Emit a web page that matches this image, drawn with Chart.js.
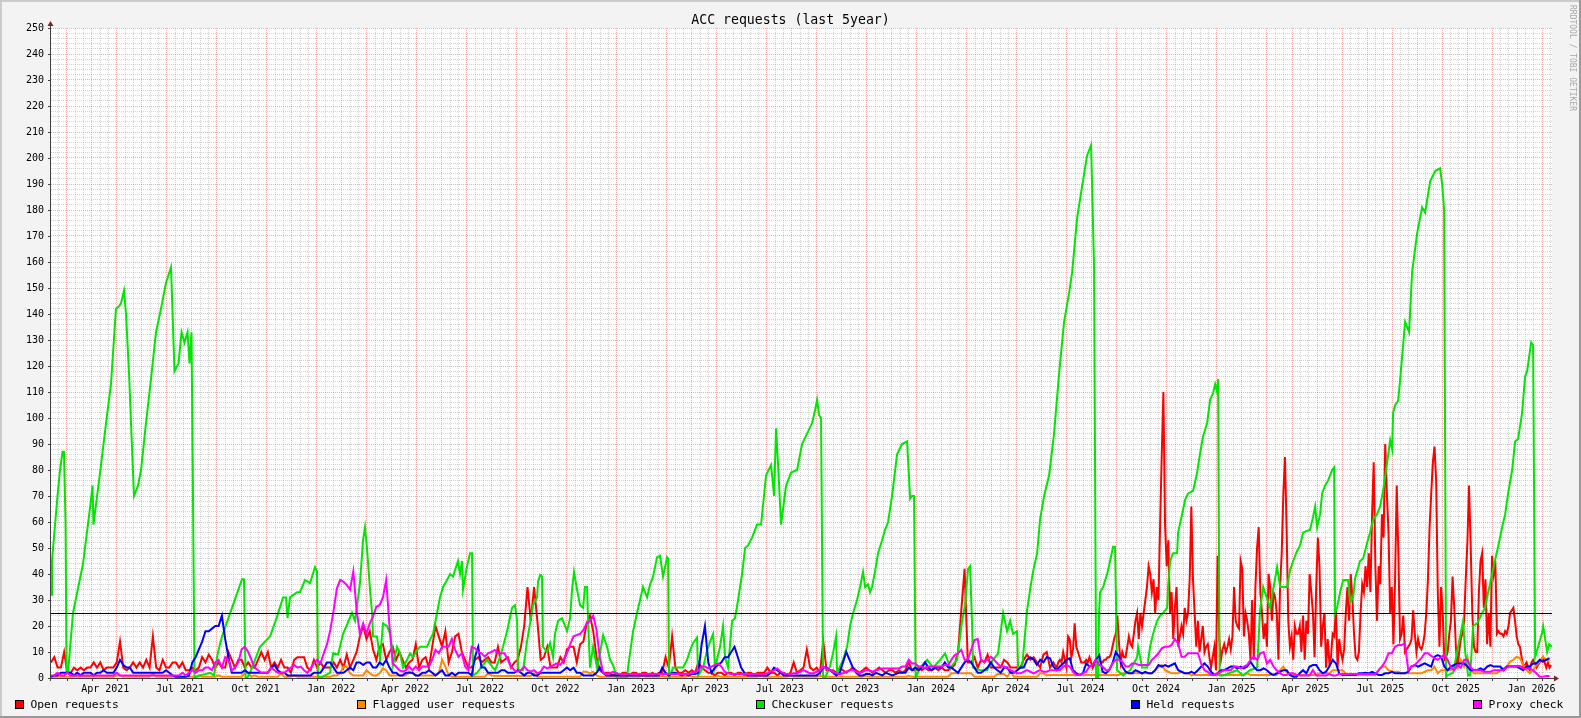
<!DOCTYPE html>
<html>
<head>
<meta charset="utf-8">
<title>ACC requests (last 5year)</title>
<script src="https://cdn.jsdelivr.net/npm/chart.js@4.4.1/dist/chart.umd.min.js"></script>
<style>
  html, body { margin: 0; padding: 0; background: #f3f3f3; }
  #wrap { width: 1581px; height: 718px; }
</style>
</head>
<body>
<div id="wrap"><canvas id="accChart" width="1581" height="718"></canvas></div>
<script>
const chartTitle = "ACC requests (last 5year)";
const startDay = Date.UTC(2021, 0, 25);
const totalDays = 1827;
const dayMs = 86400000;

const tickMonths = ["2021-04", "2021-07", "2021-10", "2022-01", "2022-04", "2022-07", "2022-10",
  "2023-01", "2023-04", "2023-07", "2023-10", "2024-01", "2024-04", "2024-07", "2024-10",
  "2025-01", "2025-04", "2025-07", "2025-10", "2026-01"];
const monthNames = ["Jan", "Feb", "Mar", "Apr", "May", "Jun", "Jul", "Aug", "Sep", "Oct", "Nov", "Dec"];
const yLabels = [0, 10, 20, 30, 40, 50, 60, 70, 80, 90, 100, 110, 120, 130, 140, 150, 160, 170, 180,
  190, 200, 210, 220, 230, 240, 250];
const threshold = 25;

// Open requests: one value every 4 days until day 1212, then every 2 days
const openEarly = [
  6,8,4,4,10,2,2,4,3,4, 3,4,4,6,4,6,3,4,4,4, 6,14,4,3,4,6,4,6,4,7, 4,16,4,3,7,4,4,6,6,4,
  6,3,3,4,3,4,8,6,9,7, 4,6,4,4,10,7,4,7,7,4, 6,4,4,7,10,7,10,4,6,4, 7,4,4,2,7,8,
  8,8,4,3,7,4,6,4,4,4, 6,4,7,4,9,4,7,10,16,20, 15,18,11,7,12,13,7,10,12,7, 10,7,4,6,7,13,4,7,8,4,
  12,20,16,12,18,6,10,16,17,10, 7,4,4,7,8,6,7,8,6,6, 12,6,7,8,4,6,7,12,20,35, 22,35,22,7,8,12,
  4,4,4,8,6,11,12,12,6,13, 14,21,24,18,8,3,2,2,2,1, 2,1,2,2,1,2,2,1,2,2, 1,2,1,2,2,8,4,16,4,2,
  2,3,2,3,2,6,4,3,2,2, 1,2,2,1,2,2,1,2,2,1, 2,2,1,2,2,2,4,2,2,1, 2,2,1,2,6,2,
  3,4,11,4,3,4,2,14,3,3, 3,2,4,3,2,3,4,3,2,3, 4,3,2,3,4,3,2,3,3,2, 3,2,3,6,3,3,4,3,4,3,
  3,4,3,4,3,3,4,5,10,26, 42,6,6,8,4,7,6,9,4,4, 4,4,7,6,4,4,4,4,7,9, 7,8,6,4,9,10
];
const openLateStart = 1216;
const openLate = [
  4,5,6,5,4,6,7,6,10,7, 4,16,15,8,11,21,12,10,8,6, 6,6,7,6,8,6,4,6,4,6, 7,6,6,7,7,8,8,9,12,15,
  17,24,13,6,10,8,8,12,16,13, 12,17,22,25,15,25,20,25,30,35, 43,40,33,38,25,35,30,59,86,110,
  59,43,53,25,33,15,27,35,12,16, 20,17,27,22,25,38,66,38,25,12, 22,10,15,20,10,12,13,8,4,8,
  12,3,47,15,7,11,13,10,12,15, 11,16,35,22,20,19,45,42,16,25, 22,17,7,30,7,35,50,58,33,25,
  15,21,12,40,35,22,33,31,25,7, 35,48,71,85,57,22,12,16,7,20, 17,17,
  20,10,24,7,22,17,40,33,25,8, 35,54,43,12,20,25,4,15,6,8, 17,16,27,4,15,10,7,11,25,35,
  22,40,31,17,8,7,10,25,36,33, 43,35,48,33,63,83,43,22,43,36, 63,54,90,71,56,25,35,13,38,74,
  48,15,17,24,10,11,12,13,15,26, 17,10,15,12,11,13,17,25,38,58, 71,83,89,76,33,12,35,25,7,8,
  10,17,22,39,27,12,4,10,15,17, 22,38,52,74,51,25,12,10,10,33, 45,48,27,38,13,25,12,47,40,45,
  17,18,17,17,16,18,17,20,25,26, 27,22,16,13,12,8,4,5,6,4, 3,6,7,6,4,5,6,7,8,6, 4,6,4,5
];

// Flagged user, held and proxy series: one value every 4 days
const flagged = [
  0.5,0.5,0.5,0.5,0.5,0.5,0.5,0.5,0.5,0.5, 0.5,0.5,0.5,0.5,0.5,0.5,0.5,0.5,0.5,0.5,
  1,1,0.5,0.5,0.5,0.5,0.5,0.5,0.5,0.5, 0.5,1.8,0.5,0.5,0.5,0.5,0.5,0.5,0.5,0.5,
  0.5,0.5,0.5,0.5,0.5,1,0.5,0.5,0.5,0.5, 0.5,1,0.5,0.5,0.5,0.5,0.5,0.5,0.5,1.8,
  1.8,0.5,1,0.5,0.5,0.5,0.5,0.5,0.5,0.5, 1.8,0.5,0.5,0.5,1,0.5,
  0.5,0.5,0.5,0.5,0.5,0.5,0.5,0.5,0.5,0.5, 1,1,1.8,4.4,4.4,1.8,1,1,1,1,
  3,1.8,1,1,1.8,3.7,3,1,1,1, 1,1,1,2.4,1.8,1,1,1,1,1,
  1,1,1.8,7,4.4,1,0.5,0.5,0.5,0.5, 0.5,0.5,0.5,0.5,0.5,0.5,0.5,1.8,1,0.8,
  0.8,0.8,0.8,0.8,0.8,0.8,0.8,0.8,0.8,0.8, 0.8,1.8,0.5,0.5,0.5,0.5,
  0.5,0.5,0.5,0.5,0.5,0.5,0.5,0.5,0.5,0.5, 2.4,2.4,1.8,2.4,1,0.5,0.5,0.5,0.5,0.5,
  0.5,0.5,0.8,0.5,0.5,0.5,0.5,0.5,0.8,0.5, 0.5,0.5,0.5,0.5,0.8,0.5,0.5,0.5,0.5,0.5,
  0.5,0.5,0.8,0.5,0.5,0.5,0.5,0.5,0.5,0.5, 0.5,0.8,0.5,0.5,0.5,0.5,0.5,0.5,0.5,0.5,
  0.5,0.5,0.5,0.5,0.8,0.5,0.5,0.5,0.5,0.5, 0.5,0.5,0.5,0.8,0.5,0.5,
  0.5,0.5,0.5,0.5,0.5,0.5,0.8,0.8,0.5,0.5, 0.5,0.5,0.5,0.5,0.5,0.5,0.5,0.5,0.5,0.5,
  0.8,0.5,0.5,0.5,0.5,0.5,0.5,0.5,0.5,0.5, 0.5,0.5,0.5,0.8,0.5,0.5,0.5,0.5,0.5,0.5,
  0.5,0.5,0.5,0.5,0.5,0.5,1.8,1.8,1.8,1.8, 1.8,1.8,1.8,0.5,0.5,0.5,0.5,0.5,0.5,0.5,
  1.5,1.5,1.5,0.5,2.4,0.5,0.5,0.5,0.5,0.5, 0.5,0.5,0.5,1.8,1.8,1,
  1.2,1.2,1.2,1.2,1.2,1.2,1.2,1.2,1.2,1.2, 1.2,1.2,1.2,1.2,1.2,1.2,1.2,1.2,1.2,1.2,
  1.2,1.2,1.8,1.8,1.8,1.8,1.8,1.8,1.8,1.8, 1.8,1.8,3,4.4,5,3,2.4,1.8,1.8,1.8,
  2.4,1.8,1.8,1.2,1.2,1.2,1.2,1.2,1.2,1.2, 1.2,1.2,1.2,1.2,1.2,1.2,1.2,1.2,1.2,1.2,
  1.8,1.2,1.2,1.2,1.2,1.2,1.2,1.2,1.2,1.2, 3,4.4,2.4,1.2,1.2,1.2,
  1.2,1.2,1.2,1.2,1.2,1.2,1.8,1.8,1.8,1.8, 3,3,3,3,1.8,1.2,1.2,1.2,1.2,1.2,
  1.2,1.2,1.2,1.2,3,4.4,4.4,3,2.4,2.4, 2.4,1.8,1.8,1.8,1.8,1.8,1.8,1.8,2.4,3,
  3,4.4,1.8,3,3,3,3,4.4,3.7,7, 4.4,8.2,3,1.8,1.8,1.8,1.8,1.8,1.8,1.8,
  1.8,3,3.7,4.4,6.3,7,8.2,7.6,5,3, 1.8,3,5,6.3,8.2,7,6.3
];
const held = [
  0.5,1,1,2,2,2,2,1,2,1, 2,2,2,1,2,2,3,2,2,2, 4,7,5,4,4,2,2,2,2,2, 2,2,2,2,2,3,2,1,0.5,0.5,
  0.5,0.5,1,6,8,11,14,18,18,19, 20,20,24,15,8,2,2,2,2,3, 2,2,2,2,2,2,2,4,5,3, 2,2,1,1,1,1,
  1,1,1,1,2,2,2,4,6,6, 4,2,2,2,3,4,3,6,6,5, 6,6,4,4,6,5,7,4,2,2, 1,1,2,2,2,1,1,2,2,3,
  2,1,2,3,1,1,2,1,2,2, 2,2,1,8,12,4,4,2,2,2, 2,3,3,2,2,2,3,2,1,2, 2,1,1,2,2,2,
  2,2,2,2,3,4,3,4,2,2, 1,1,1,1,2,4,2,1,1,1, 1,1,1,1,1,1,1,1,1,1, 1,1,1,1,4,2,1,2,2,1.5,
  1,1.5,1,1.5,1.5,2,13,20,6,2, 4,5,6,8,8,10,12,8,4,2, 1,1,1,1,1,1,1,2,4,3, 2,1,1,1,1,1,
  1,1,1,1,1,1,2,4,4,3, 2,1,2,6,10,7,4,2,1,1, 1.5,1.5,1,2,1.5,1,2,1.5,1,1.5, 2,2,2,4,3,4,3,4,6,4,
  3,4,4,4,6,4,4,3,2,4, 6,7,6,4,2,2,3,4,6,4, 3,2,4,4,2,2,3,4,4,7, 8,7,5,7,6,8,
  7.6,4.4,3,4.4,5.6,7,7.6,3,1.8,1.2, 1.8,5.6,4.4,5,7,8.8,2.4,1.8,3,5.6, 10,8.2,4.4,2.4,1.8,1.8,3,2.4,1.8,2.4,
  1.8,1.8,3,5,4.4,5,4.4,5,5.6,3, 2.4,1.8,1.8,2.4,1.8,3,4.4,5.6,4.4,2.4, 1.2,1.8,3,3,3.7,4.4,4.4,3.7,4.4,3.7,
  4.4,6.3,4.4,3,3,3.7,3,1.8,1.2,1.8, 2.4,3,3,1.2,0.5,0.5,
  1.8,3,1.8,4.4,5,5,3,1.8,2.4,4.4, 7,5.6,1.8,1.2,1.2,1.2,1.2,1.2,1.8,1.8, 2,1.8,2.4,1.8,1.2,1.2,1.8,1.8,2.4,1.8,
  1.8,1.8,1.8,2.4,4.4,5,4.4,5,5.6,5, 4.4,8.2,8.8,8.2,4.4,3,4.4,5,5.6,5.6, 5.6,4.4,3,3,3,3.7,3,4.4,5,4.4,
  4.4,4.4,3,4.4,4.4,4.4,4.4,3.7,3,4.4, 4.4,5.6,5.6,7,6.3,7,7.6
];
const proxy = [
  1,1,2,1,1,2,1,1,1,1, 1,1,1,1,1,1,1,1,1,1, 2,1,1,1,1,1,1,1,1,1, 1,1,1,1,1,1,1,1,1,1,
  2,1,2,3,2,3,3,4,4,3, 6,7,4,8,7,3,4,6,11,12, 10,7,4,3,2,2,2,4,3,2, 2,2,3,4,5,4,
  4.4,3,2,3.7,5.6,7,5.6,9.5,13,18.5, 26,34.5,37.7,37,35.8,34,41,26,17,21, 17,21,23.6,27.4,28,31,37.7,20,5.6,4.4,
  3,2.4,3,4.4,3,4.4,3,4.4,4.4,4.4, 7,10.8,9.5,12,12,12,15,10.8,8.2,9.5, 4.4,3,12,11.4,10,9.5,8.2,9.5,10,10.8,
  9.5,9.5,9.5,7,4.4,3,2.4,3,4.4,3, 2.4,3,1.8,2.4,4.4,3.7,
  4.4,5,5.6,5,7,9.5,13,16,16.5,17, 18.5,21,22,24,18.5,8,2,1.5,1.8,2.4, 1.8,1.5,1.5,1.5,1.5,1.5,1.5,1.5,1.5,1.5,
  1.5,1.5,1.5,1.5,1.5,1.5,1.5,1.5,1.5,1.5, 1.5,1.5,1.5,1.8,2.4,3,4.4,4.4,3.7,4.4, 5,5.6,4.4,2.4,1.8,1.5,1.5,1.5,1.5,1.5,
  1.5,1.5,1.5,1.5,1.5,1.5,1.8,2.4,3,3.7, 2.4,1.8,1.5,1.5,1.8,1.8,
  2.4,3,2.4,1.8,1.8,2.4,3,4.4,3.7,3, 2.4,1.8,1.5,1.8,2.4,3,3,2.4,1.8,2.4, 3,3,2.4,3,3.3,3.7,3.7,3.7,3.7,3.7,
  3.7,4.4,4.4,7,5.6,5.6,4.4,4.4,3.7,4.4, 4.4,4.4,4.4,4.4,5,5,7,8.8,9.5,10.8, 7,7,10.8,14.6,15,7,6.3,7,8.2,7,
  5.6,4.4,4.4,3.7,3,2.4,1.8,1.8,2.4,3, 2.4,1.8,2.4,3,2.4,2.4,
  3,3,3,3,4.4,5,4.4,2.4,1.2,1.2, 1.8,2.4,4.4,5,7,5,4.4,3,3,5.6, 7,7,6.3,4.4,4.4,5.6,5.6,5,5,5,
  5,7,8.2,9.5,11.4,12,12,12.7,15,13.3, 8.2,8.2,9.5,9.5,9.5,9.5,5.6,3,2.4,1.2, 1.2,1.8,2.4,3,3,3,4.4,4.4,3.7,4.4,
  5,7,8.2,7,9.5,10,5.6,7,4.4,3, 1.8,1.2,1.2,1.8,1.8,1.2,
  1,1,1,1,3,1,1,1,1,1.5, 1,1,1.5,1.5,1.5,1.5,1.5,1.5,1.5,1.5, 1.5,1.5,1.5,1.5,3,4.4,6.3,9.5,9.5,12,
  12.7,12.7,13.3,3,4.4,5,6.3,7.6,9.5,9.5, 8.5,7.6,7,8,9,7,4,3,5,4, 7,7,4,3,3,3,2.4,2.4,2.4,3,
  3,3,3,4,4.6,4.6,4.6,4.6,3.7,3.7, 3.7,3,1.8,0.5,0.5,0.8,0.8
];

// Checkuser requests: [day, value] at each turning point of the curve
const checkuser = [
  [0,32],[1.2,45],[7.9,70],[11,80],[14,87],[15.8,87],[17.7,60],[18.9,2],[20.7,2],[26.8,25],[39,44],[48.1,67],
  [50.5,74],[51.7,59],[60.9,82],[67,98],[73,113],[79.1,142],[82.8,143],[85.2,144],[88.9,149],[91.3,140],[95,117],
  [97.4,98],[101,70],[105.9,74],[109.6,80],[115.6,98],[121.7,115],[127.8,133],[133.9,142],[140,152],[146.1,158],
  [150.3,118],[155.2,121],[158.9,133],[162.5,129],[166.2,133],[168.6,121],[171,133],[172.9,67],[174.7,0],[181.4,1],
  [193.6,2],[198.4,1],[203.3,10],[208.2,16],[220.3,27],[232.5,38],[234.9,38],[236.8,0],[238.6,0],[242.2,2],
  [254.4,12],[266.6,16],[275.1,23.5],[282.4,31],[286.1,31],[287.9,23],[290.9,31],[299.5,33],[303.1,33],[309.2,37.7],
  [315.3,36.5],[321.4,42.7],[323.8,41],[325,0],[327.5,0],[339.6,2],[343.3,9.5],[349.4,9],[355.5,17],[366.4,25],
  [370.1,22],[376.1,36.5],[379.8,53],[382.2,58],[384.7,49.6],[388.3,34],[390.8,25],[392,16],[396.8,16],[400.5,7],
  [404.1,21],[409,20],[412.7,17],[415.1,12],[416.3,5],[421.2,12],[424.8,9.5],[428.5,4],[433.4,7],[437,9.5],
  [440.7,8],[445.5,10.7],[449.2,12],[457.7,12],[461.4,14.7],[465,17],[469.9,25],[473.5,31],[477.2,35],[482.1,37.7],
  [485.7,40],[489.4,39],[491.8,41.5],[495.4,45],[497.9,40],[500.3,45],[501.5,34],[506.4,43],[510,48],[512.5,48],
  [513.7,1],[518.6,2],[530.7,7],[540.5,3],[546.6,8],[550.2,12],[555.1,18],[561.2,27],[564.8,28],[567.3,22],
  [568.5,3],[574.6,3],[579.4,14],[583.1,21],[586.7,28],[591.6,31],[592.8,37],[595.3,39.6],[597.7,39],[598.9,12],
  [603.8,10],[607.4,13.5],[611.1,8],[613.5,17],[617.2,22],[622,23],[625.7,20],[628.1,18],[631.8,23],[634.2,34],
  [636.6,40.8],[640.3,34],[644,28],[647.6,27],[650,35],[652.5,35],[653.7,22],[656.1,4],[659.8,12],[664.6,4],
  [668.3,9.5],[672,16.5],[676.8,12],[680.5,7],[684.1,5],[689,0],[701.2,0],[702.4,4],[708.5,18],[713.3,25],
  [717,30],[720.6,35],[725.5,31],[729.2,36],[732.8,39],[737.7,46.5],[741.3,47],[745,39],[749.9,46.5],[751.1,46],
  [752.3,0],[757.2,4],[769.3,4],[774.2,7],[777.9,10.6],[781.5,13.5],[786.4,15.6],[787.6,1],[793.7,4],[798.5,10.6],
  [802.2,14],[805.9,17],[808.3,4],[814.4,12],[818,20],[820.5,8],[824.1,4],[829,22],[832.6,23],[836.3,30],
  [841.2,40],[844.8,50],[848.5,51],[853.3,54],[859.4,59],[864.3,59],[870.4,78],[876.5,82],[880.1,70],[882.5,96],
  [885,82],[888.6,59],[894.7,74],[900.8,79],[908.1,80],[914.2,90],[920.3,94],[926.4,98],[930,103],[932.5,107],
  [934.9,101],[937.3,100],[939.8,0],[942.2,0],[948.3,4.6],[951.9,9.5],[955.6,16],[956.8,2],[964.1,7],[969,12],
  [972.6,20],[976.3,25],[981.1,30],[984.8,35],[988.4,40.8],[990.9,35],[994.5,36],[997,33],[999.4,35],[1003,41],
  [1006.7,48],[1011.6,53],[1015.2,57],[1018.9,60],[1023.7,70],[1029.8,86],[1035.9,90],[1042,91],[1045.7,69],
  [1048.1,70],[1050.5,70],[1052.4,0],[1057.8,4],[1066.4,7],[1073.7,4],[1082.2,7],[1088.3,9.5],[1094.4,4],
  [1102.9,7],[1109,22],[1112.6,28],[1115.1,37.7],[1116.3,42],[1118.7,43],[1121.1,21],[1122.4,4],[1130.9,3],
  [1139.4,3],[1146.7,7],[1152.8,9.5],[1158.9,25],[1163.7,18],[1167.4,22],[1171,17],[1175.9,18],[1177.1,4],
  [1182,4],[1188.1,26],[1191.7,34],[1195.4,41],[1200.3,48],[1203.9,61],[1208.8,70],[1214.9,78],[1220.9,94],
  [1227,117],[1233.1,137],[1239.2,148],[1242.9,156],[1249,177],[1255,189],[1261.1,201],[1266,205],[1269.6,158],
  [1272.1,0],[1274.5,0],[1275.7,25],[1276.9,33],[1280.6,35],[1285.5,40],[1289.1,45],[1292.8,50.5],[1295.2,50.5],
  [1297.6,3],[1305,1],[1313.5,3],[1322,8],[1323.2,12],[1328.1,4],[1334.2,4],[1337.8,12],[1341.5,17],[1346.3,22],
  [1350,24],[1353.6,25],[1358.5,27],[1359.7,35],[1362.2,45],[1365.8,48],[1370.7,48],[1371.9,56],[1376.8,63],
  [1380.4,68.5],[1384.1,71],[1390.2,72],[1395,79],[1398.7,86.5],[1402.3,93],[1407.2,98],[1410.9,107],[1414.5,109.6],
  [1417,113],[1419.4,110],[1420.6,115],[1422.4,1],[1426.7,1],[1443.7,3],[1451,1],[1459.5,3],[1468.1,4],[1471.7,26],
  [1475.4,35],[1483.9,27],[1492.4,42.7],[1496.1,35],[1504.6,35],[1508.2,41.5],[1511.9,45],[1516.8,49],[1520.4,51],
  [1524.1,56],[1532.6,57],[1536.2,62],[1538.7,66],[1541.1,58],[1544.8,63],[1547.2,71],[1550.8,74],[1554.5,76],
  [1559.4,80],[1561.8,81],[1563,25],[1565.4,27],[1569.1,33],[1572.8,37.7],[1578.8,37.7],[1581.3,29],[1584.9,31],
  [1587.4,38.5],[1593.4,45],[1597.1,46],[1602,52],[1605.6,56],[1609.3,61],[1614.1,63],[1617.8,66],[1621.4,72],
  [1626.3,82.7],[1630,91.5],[1632.4,88],[1633.6,102],[1636.1,105],[1639.7,106.6],[1642.1,114.6],[1648.2,137],
  [1653.1,133],[1656.7,156],[1662.8,171],[1668.9,181],[1672.6,179],[1678.7,191],[1684.8,195],[1690.8,196],
  [1693.3,190],[1695.7,180],[1698.1,0],[1699.3,1],[1706.7,2],[1712.7,12],[1718.8,22],[1721.3,10],[1724.9,1],
  [1727.4,1],[1731,20],[1735.9,21],[1742,25],[1745.6,27],[1749.3,33],[1754.1,40],[1757.8,45.5],[1761.4,50.5],
  [1766.3,58],[1770,63],[1773.6,71],[1778.5,80],[1782.1,91],[1785.8,92],[1790.6,102],[1794.3,116],[1796.7,118],
  [1801.6,129],[1804,128],[1806.5,8],[1810.1,12],[1815,17.5],[1816.2,20],[1821.1,10],[1823.5,13],[1827,12]
];

const seriesLabels = ["Open requests", "Flagged user requests", "Checkuser requests", "Held requests", "Proxy check"];
const seriesColors = ["#ff0000", "#ff8800", "#00e600", "#0000ff", "#ff00ff"];

const FONT = "'DejaVu Sans Mono', monospace";
const majorGrid = "rgba(230, 60, 60, 0.42)";
const minorGrid = "rgba(140, 140, 140, 0.38)";
const legendX = [15, 357, 756, 1131, 1473];

function stepSeries(values, step, from) {
  return values.map((v, i) => ({ x: from + i * step, y: v }));
}

const openPoints = stepSeries(openEarly, 4, 0).concat(stepSeries(openLate, 2, openLateStart));
const checkuserPoints = checkuser.map(p => ({ x: p[0], y: p[1] }));

const labelDays = tickMonths.map(m => {
  const [y, mo] = m.split("-").map(Number);
  return (Date.UTC(y, mo - 1, 1) - startDay) / dayMs;
});
const labelTexts = tickMonths.map(m => {
  const [y, mo] = m.split("-").map(Number);
  return monthNames[mo - 1] + " " + y;
});

// vertical grid: a red line every 1/12 year, two grey lines in between
function verticalGrid() {
  const ticks = [];
  const minor = 365.25 / 36;
  for (let k = -1; 19.1 + k * minor <= totalDays; k++) {
    ticks.push({ value: 19.1 + k * minor, major: k % 3 === 0 });
  }
  return ticks;
}
function horizontalGrid() {
  const ticks = [];
  for (let v = 0; v <= 250; v += 2) ticks.push({ value: v });
  return ticks;
}

const rrdFrame = {
  id: "rrdFrame",
  beforeDraw(chart) {
    const { ctx, width, height, chartArea: a } = chart;
    ctx.save();
    ctx.fillStyle = "#f3f3f3";
    ctx.fillRect(0, 0, width, height);
    ctx.fillStyle = "#cbcbcb";
    ctx.fillRect(0, 0, width, 2);
    ctx.fillRect(0, 0, 2, height);
    ctx.fillStyle = "#999999";
    ctx.fillRect(0, height - 2, width, 2);
    ctx.fillRect(width - 2, 0, 2, height);
    ctx.fillStyle = "#ffffff";
    ctx.fillRect(a.left, a.top, a.right - a.left, a.bottom - a.top);
    ctx.restore();
  },
  afterDatasetsDraw(chart) {
    const { ctx, chartArea: a, scales } = chart;
    ctx.save();
    const yh = Math.round(scales.y.getPixelForValue(threshold)) + 0.5;
    ctx.strokeStyle = "#000000";
    ctx.lineWidth = 1;
    ctx.beginPath();
    ctx.moveTo(a.left, yh);
    ctx.lineTo(a.right, yh);
    ctx.stroke();

    const ax = a.left - 0.5, ay = a.bottom + 0.5;
    ctx.strokeStyle = "#404040";
    ctx.beginPath();
    ctx.moveTo(ax, a.bottom + 3);
    ctx.lineTo(ax, a.top - 3);
    ctx.moveTo(a.left - 3, ay);
    ctx.lineTo(a.right + 3, ay);
    scales.x.ticks.forEach(t => {
      if (!t.major) return;
      const px = Math.round(scales.x.getPixelForValue(t.value)) + 0.5;
      ctx.moveTo(px, a.bottom);
      ctx.lineTo(px, a.bottom + 3);
    });
    yLabels.forEach(v => {
      const py = Math.round(scales.y.getPixelForValue(v)) + 0.5;
      ctx.moveTo(a.left - 3, py);
      ctx.lineTo(a.left, py);
    });
    ctx.stroke();

    ctx.fillStyle = "#7f1f1f";
    ctx.beginPath();
    ctx.moveTo(ax, a.top - 7);
    ctx.lineTo(ax - 3, a.top - 2);
    ctx.lineTo(ax + 3, a.top - 2);
    ctx.closePath();
    ctx.fill();
    ctx.beginPath();
    ctx.moveTo(a.right + 7, ay);
    ctx.lineTo(a.right + 2, ay - 3);
    ctx.lineTo(a.right + 2, ay + 3);
    ctx.closePath();
    ctx.fill();
    ctx.restore();
  },
  afterDraw(chart) {
    const { ctx, width } = chart;
    ctx.save();
    ctx.fillStyle = "#000000";
    ctx.font = "13.2px " + FONT;
    ctx.textAlign = "center";
    ctx.textBaseline = "alphabetic";
    ctx.fillText(chartTitle, width / 2, 24);

    ctx.font = "11.3px " + FONT;
    ctx.textAlign = "left";
    chart.data.datasets.forEach((ds, i) => {
      const sx = legendX[i];
      ctx.fillStyle = ds.borderColor;
      ctx.fillRect(sx, 700, 9, 9);
      ctx.strokeStyle = "#000000";
      ctx.lineWidth = 1;
      ctx.strokeRect(sx + 0.5, 700.5, 8, 8);
      ctx.fillStyle = "#000000";
      ctx.fillText(ds.label, sx + 15.5, 708);
    });

    ctx.translate(1569, 5);
    ctx.rotate(Math.PI / 2);
    ctx.font = "8px " + FONT;
    ctx.fillStyle = "#a8a8a8";
    ctx.textBaseline = "middle";
    ctx.fillText("RRDTOOL / TOBI OETIKER", 0, -3);
    ctx.restore();
  }
};

const ordering = [5, 4, 3, 2, 1];
const pointSets = [openPoints, stepSeries(flagged, 4, 0), checkuserPoints, stepSeries(held, 4, 0), stepSeries(proxy, 4, 0)];

new Chart(document.getElementById("accChart"), {
  type: "line",
  data: {
    datasets: pointSets.map((pts, i) => ({
      label: seriesLabels[i],
      data: pts,
      borderColor: seriesColors[i],
      backgroundColor: seriesColors[i],
      order: ordering[i]
    }))
  },
  options: {
    responsive: false,
    animation: false,
    events: [],
    datasets: {
      line: { borderWidth: 2, pointRadius: 0, tension: 0, fill: false }
    },
    layout: { padding: { top: 28, right: 29, bottom: 0, left: 0 } },
    plugins: {
      legend: { display: false },
      title: { display: false },
      tooltip: { enabled: false }
    },
    scales: {
      x: {
        type: "linear",
        min: 0,
        max: totalDays,
        position: "bottom",
        afterBuildTicks: s => { s.ticks = verticalGrid(); },
        afterFit: s => { s.height = 0; },
        ticks: { display: false },
        grid: {
          color: c => (c.tick && c.tick.major) ? majorGrid : minorGrid,
          drawTicks: false,
          lineWidth: 1
        },
        border: { display: false, dash: [1, 1] }
      },
      xl: {
        type: "linear",
        min: 0,
        max: totalDays,
        position: "bottom",
        afterBuildTicks: s => { s.ticks = labelDays.map(d => ({ value: d })); },
        afterFit: s => { s.height = 40; },
        ticks: {
          autoSkip: false,
          maxRotation: 0,
          padding: 5,
          color: "#000000",
          font: { family: FONT, size: 10 },
          callback: (v, i) => labelTexts[i]
        },
        grid: { display: false, drawTicks: false },
        border: { display: false }
      },
      y: {
        type: "linear",
        min: 0,
        max: 250,
        afterBuildTicks: s => { s.ticks = horizontalGrid(); },
        afterFit: s => { s.width = 51; },
        ticks: {
          autoSkip: false,
          padding: 7,
          color: "#000000",
          font: { family: FONT, size: 10 },
          callback: v => (yLabels.includes(v) ? String(v) : "")
        },
        grid: {
          color: c => (c.tick && c.tick.value % 10 === 0) ? majorGrid : minorGrid,
          drawTicks: false,
          lineWidth: 1
        },
        border: { display: false, dash: [1, 1] }
      }
    }
  },
  plugins: [rrdFrame]
});
</script>
</body>
</html>
